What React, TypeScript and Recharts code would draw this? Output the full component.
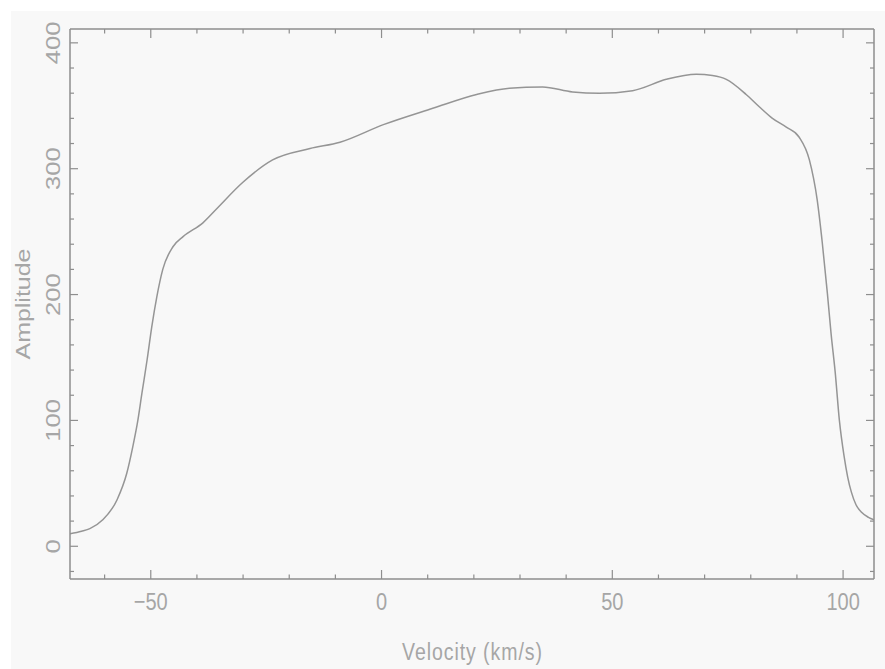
import React from 'react';
import { LineChart, Line, XAxis, YAxis, Label } from 'recharts';

// line profile sampled along velocity
const velocity = [
  -67.5, -65, -63.2, -60.4, -57.3, -55.2, -53.9, -52.8, -51.9, -50.8, -49.8, -48.7, -47.4,
  -45.2, -43.0, -38.7, -35.5, -30.1, -23.6, -15.5, -9, 0.4, 11.1, 20.6, 27.7, 34.9, 41.4,
  47.2, 54.4, 61.7, 68.2, 71.7, 74.7, 79, 81.9, 84.7, 87.7, 90.5, 92.7, 94.4, 95.5, 96.6,
  97.4, 98.3, 99.2, 100.2, 101, 101.8, 102.8, 104, 105.5, 106.7,
];
const amplitude = [
  10, 12, 14, 21, 37, 58, 79, 100, 122, 148, 174, 198, 220,
  238, 246, 257, 269, 289, 307, 316, 321, 335, 348, 359, 364, 365, 361,
  360, 362, 371, 375, 374, 371, 359, 349, 340, 333, 325, 307, 275, 241, 201,
  169, 138, 100, 72, 55, 43, 33, 27, 23, 21,
];

const xDomain = [-67.5, 106.7];
const yDomain = [-26, 411];
const xTicks = [-60, -50, -40, -30, -20, -10, 0, 10, 20, 30, 40, 50, 60, 70, 80, 90, 100];
const yTicks = [-20, 0, 20, 40, 60, 80, 100, 120, 140, 160, 180, 200, 220, 240, 260, 280, 300, 320, 340, 360, 380, 400];
const xMajor = [-50, 0, 50, 100];
const yMajor = [0, 100, 200, 300, 400];

const rows = velocity.map((v, i) => ({ v, a: amplitude[i] }));

const FRAME = '#8e8e8e';
const TEXT = '#a6a6a6';
const FONT = '"Liberation Sans", Arial, sans-serif';

const fmt = (n: number) => (n < 0 ? '\u2212' + Math.abs(n) : String(n));

const BottomTick = (props: any) => {
  const { x, y, payload } = props;
  const major = xMajor.includes(payload.value);
  return (
    <g>
      <line x1={x} y1={y} x2={x} y2={y - (major ? 9 : 4.5)} stroke={FRAME} strokeWidth={1.2} />
      {major && (
        <text
          transform={`translate(${x},${y + 31}) scale(1,1.22)`}
          textAnchor="middle"
          fontSize={20}
          fontFamily={FONT}
          fill={TEXT}
        >
          {fmt(payload.value)}
        </text>
      )}
    </g>
  );
};

const TopTick = (props: any) => {
  const { x, y, payload } = props;
  const major = xMajor.includes(payload.value);
  return <line x1={x} y1={y} x2={x} y2={y + (major ? 9 : 4.5)} stroke={FRAME} strokeWidth={1.2} />;
};

const LeftTick = (props: any) => {
  const { x, y, payload } = props;
  const major = yMajor.includes(payload.value);
  return (
    <g>
      <line x1={x} y1={y} x2={x + (major ? 8 : 4)} y2={y} stroke={FRAME} strokeWidth={1.2} />
      {major && (
        <text
          transform={`translate(${x - 10},${y}) scale(1,1.28) rotate(-90)`}
          textAnchor="middle"
          fontSize={20}
          fontFamily={FONT}
          fill={TEXT}
        >
          {fmt(payload.value)}
        </text>
      )}
    </g>
  );
};

const RightTick = (props: any) => {
  const { x, y, payload } = props;
  const major = yMajor.includes(payload.value);
  return <line x1={x} y1={y} x2={x - (major ? 8 : 4)} y2={y} stroke={FRAME} strokeWidth={1.2} />;
};

const XTitle = (props: any) => {
  const { x, y, width } = props.viewBox;
  return (
    <text
      transform={`translate(${x + width / 2},${y + 81}) scale(1,1.25)`}
      textAnchor="middle"
      fontSize={19.5}
      fontFamily={FONT}
      fill={TEXT}
      textLength={140}
      lengthAdjust="spacing"
    >
      Velocity (km/s)
    </text>
  );
};

const YTitle = (props: any) => {
  const { y, height } = props.viewBox;
  return (
    <text
      transform={`translate(30,${y + height / 2}) scale(1,1.28) rotate(-90)`}
      textAnchor="middle"
      fontSize={19.5}
      fontFamily={FONT}
      fill={TEXT}
    >
      Amplitude
    </text>
  );
};

export default function App() {
  return (
    <div style={{ position: 'absolute', left: 0, top: 0, width: 885, height: 669, background: '#ffffff' }}>
      <div style={{ position: 'absolute', left: 11, top: 11, right: 0, bottom: 0, background: '#f8f8f8' }} />
      <div style={{ position: 'absolute', left: 0, top: 0 }}>
        <LineChart width={885} height={669} data={rows} margin={{ top: 28, right: 10, bottom: 0, left: 0 }}>
          <XAxis
            xAxisId="b"
            dataKey="v"
            type="number"
            domain={xDomain}
            allowDataOverflow
            ticks={xTicks}
            interval={0}
            height={90}
            tickSize={0}
            tickMargin={0}
            tickLine={false}
            axisLine={{ stroke: FRAME, strokeWidth: 1.5 }}
            tick={<BottomTick />}
          >
            <Label content={<XTitle />} />
          </XAxis>
          <XAxis
            xAxisId="t"
            orientation="top"
            dataKey="v"
            type="number"
            domain={xDomain}
            allowDataOverflow
            ticks={xTicks}
            interval={0}
            height={1}
            tickSize={0}
            tickMargin={0}
            tickLine={false}
            axisLine={{ stroke: FRAME, strokeWidth: 1.5 }}
            tick={<TopTick />}
          />
          <YAxis
            yAxisId="l"
            type="number"
            domain={yDomain}
            allowDataOverflow
            ticks={yTicks}
            interval={0}
            width={70}
            tickSize={0}
            tickMargin={0}
            tickLine={false}
            axisLine={{ stroke: FRAME, strokeWidth: 1.5 }}
            tick={<LeftTick />}
          >
            <Label content={<YTitle />} />
          </YAxis>
          <YAxis
            yAxisId="r"
            orientation="right"
            type="number"
            domain={yDomain}
            allowDataOverflow
            ticks={yTicks}
            interval={0}
            width={1}
            tickSize={0}
            tickMargin={0}
            tickLine={false}
            axisLine={{ stroke: FRAME, strokeWidth: 1.5 }}
            tick={<RightTick />}
          />
          <Line
            xAxisId="b"
            yAxisId="l"
            type="monotone"
            dataKey="a"
            stroke="#959595"
            strokeWidth={1.5}
            dot={false}
            activeDot={false}
            isAnimationActive={false}
          />
          <Line
            xAxisId="t"
            yAxisId="r"
            type="monotone"
            dataKey="a"
            stroke="none"
            strokeOpacity={0}
            dot={false}
            activeDot={false}
            isAnimationActive={false}
          />
        </LineChart>
      </div>
    </div>
  );
}
